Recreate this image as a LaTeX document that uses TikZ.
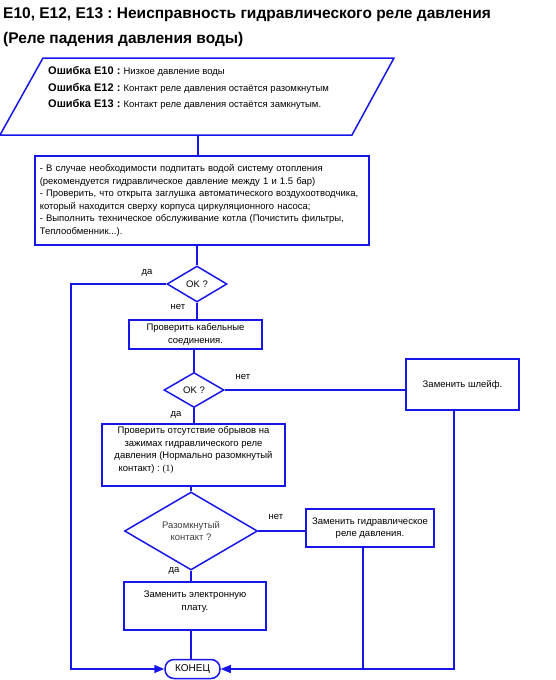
\documentclass[tikz,border=0pt]{standalone}
\usepackage{fontspec}
\setmainfont{Liberation Sans}
\newfontfamily\serifnum{Liberation Serif}
\usetikzlibrary{positioning,arrows.meta,shapes.geometric}
\definecolor{flow}{RGB}{22,22,235}
\newcommand\errline[2]{\textbf{Ошибка #1 :} {\fontsize{9.5}{16.5}\selectfont #2}}
\frenchspacing

\begin{document}
\begin{tikzpicture}[x=1pt, y=-1pt,
  link/.style={draw=flow, line width=1.5pt},
  arr/.style={link, -{Triangle[length=10pt,width=8pt]}},
  box/.style={link, align=center, inner sep=2pt,
    font=\fontsize{9.5}{12.5}\selectfont},
  dec/.style={link, diamond, inner sep=0pt, align=center,
    font=\fontsize{9.5}{12.5}\selectfont},
  lbl/.style={font=\fontsize{9.5}{11}\selectfont}
]
  \useasboundingbox (0,0) rectangle (556,680);

  % title
  \node[anchor=north west, align=left, inner sep=0pt,
    font=\bfseries\fontsize{15.5}{25}\selectfont] (title) at (3,7)
    {E10, E12, E13 : Неисправность гидравлического реле давления\\
     (Реле падения давления воды)};

  % error codes
  \draw[link] (43,58) -- (394,58) -- (352,135) -- (0,135) -- cycle;
  \node[anchor=west, align=left, inner sep=0pt,
    font=\fontsize{11}{16.5}\selectfont] (codes) at (48,88)
    {\errline{E10}{Низкое давление воды}\\
     \errline{E12}{Контакт реле давления остаётся разомкнутым}\\
     \errline{E13}{Контакт реле давления остаётся замкнутым.}};
  \coordinate (codesb) at (198,135);

  % boxes and tests
  \node[box, anchor=north west, text width=324pt, align=left,
    inner sep=5pt, minimum height=89pt] (fill) at (34,155)
    {- В случае необходимости подпитать водой систему отопления\\
     (рекомендуется гидравлическое давление между 1 и 1.5 бар)\\
     - Проверить, что открыта заглушка автоматического воздухоотводчика,\\
     который находится сверху корпуса циркуляционного насоса;\\
     - Выполнить техническое обслуживание котла (Почистить фильтры,\\
     Теплообменник...).};
  \node[dec, minimum width=60pt, minimum height=36pt] (ok1) at (197,284) {OK ?};
  \node[box, minimum width=133pt, minimum height=29pt] (cable) at (195.5,334.5)
    {Проверить кабельные\\соединения.};
  \node[dec, minimum width=60pt, minimum height=35pt] (ok2) at (194,390) {OK ?};
  \node[box, minimum width=113pt, minimum height=51pt] (loom) at (462.5,384.5)
    {Заменить шлейф.};
  \node[box, minimum width=183pt, minimum height=62pt] (wires) at (193.5,455)
    {Проверить отсутствие обрывов на\\зажимах гидравлического реле\\
     давления (Нормально разомкнутый\\
     \makebox[150pt][l]{контакт) : {\serifnum(1)}}\\[-4pt]\strut};
  \node[dec, minimum width=133pt, minimum height=58pt, text=black!75] (contact)
    at (191,531) {\\[-5pt]Разомкнутый\\контакт ?};
  \node[box, minimum width=128pt, minimum height=38pt] (relay) at (370,528)
    {Заменить гидравлическое\\реле давления.};
  \node[box, minimum width=142pt, minimum height=48pt] (board) at (195,606)
    {Заменить электронную\\плату.\\[-6pt]\strut};
  \node[box, rounded corners=9pt, minimum width=55pt, minimum height=19pt,
    font=\fontsize{10}{12}\selectfont] (stop) at (192.5,669) {КОНЕЦ};

  % answers
  \node[lbl] (yes1) at (147,273) {да};
  \node[lbl] (no1) at (178,307) {нет};
  \node[lbl] (no2) at (243,377) {нет};
  \node[lbl] (yes2) at (176,415) {да};
  \node[lbl] (no3) at (276,517) {нет};
  \node[lbl] (yes3) at (174,571) {да};

  % connectors
  \coordinate (left) at (71,669);
  \coordinate (right) at (454,669);
  \coordinate (relayb) at (363,669);
  \draw[link] (codesb) -- (codesb |- fill.north);
  \draw[link] (ok1 |- fill.south) -- (ok1.north);
  \draw[link] (ok1.south) -- (ok1.south |- cable.north);
  \draw[link] (ok2 |- cable.south) -- (ok2.north);
  \draw[link] (ok2.east) -- (ok2.east -| loom.west);
  \draw[link] (ok2.south) -- (ok2.south |- wires.north);
  \draw[link] (contact |- wires.south) -- (contact.north);
  \draw[link] (contact.east) -- (contact.east -| relay.west);
  \draw[link] (contact.south) -- (contact.south |- board.north);
  \draw[link] (contact |- board.south) -- (contact |- stop.north);
  \draw[arr] (ok1.west) -| (left) -- (stop.west);
  \draw[arr] (loom.south -| right) -- (right) -- (stop.east);
  \draw[link] (relay.south -| relayb) -- (relayb);
\end{tikzpicture}
\end{document}
